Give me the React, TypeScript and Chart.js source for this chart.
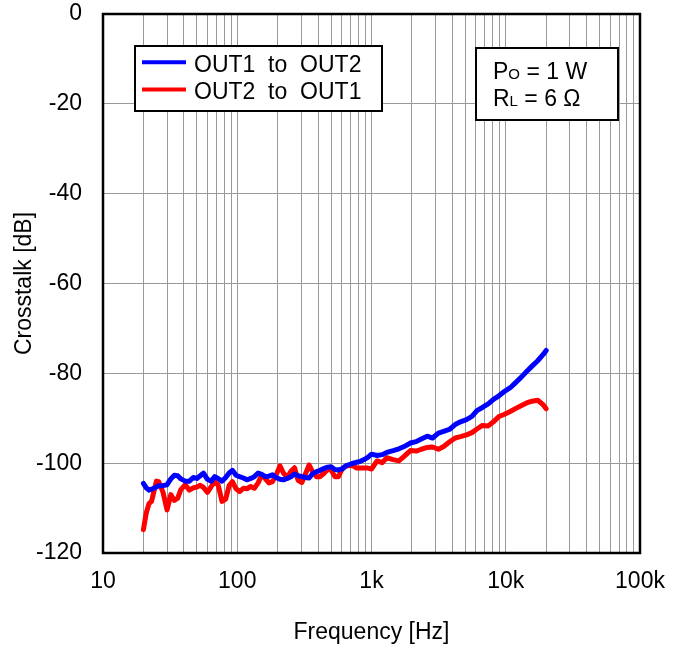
import React, { useEffect, useRef } from 'react';
import { Chart, registerables } from 'chart.js';

Chart.register(...registerables);

const FONT = "'Liberation Sans', Arial, Helvetica, sans-serif";

const freqHz = [
  20, 21, 22, 23, 25, 26, 28, 30, 32, 34,
  36, 38, 41, 44, 47, 50, 53, 56, 60, 64,
  68, 72, 77, 82, 87, 92, 98, 104, 111, 118,
  126, 134, 143, 152, 162, 172, 183,
  195, 208, 221, 236, 251, 267, 284, 303, 322, 343,
  365, 389, 414, 441, 470, 500, 533, 567, 604, 643,
  685, 730, 777, 827, 881, 938, 1000, 1100, 1200, 1300,
  1450, 1600, 1750, 1950,
  2150, 2350, 2600, 2850, 3150, 3450, 3800, 4200, 4600, 5100,
  5600, 6100, 6700, 7400, 8100, 8900, 9800, 10800, 11900, 13000,
  14300, 15700, 17300, 19000, 20000,
];

const out1ToOut2 = [
  -104.5, -105.5, -106.0, -105.8, -105.3, -105.0, -105.0, -104.8, -103.5, -102.7,
  -102.8, -103.5, -104.0, -104.0, -103.2, -103.4, -102.8, -102.2, -103.6, -104.0,
  -103.0, -103.4, -104.0, -103.2, -102.2, -101.6, -102.7, -103.0, -103.3, -103.7,
  -103.4, -103.0, -102.2, -102.5, -103.0, -102.9, -102.6,
  -103.2, -103.6, -103.7, -103.4, -103.0, -102.4, -102.8, -103.0, -103.2, -103.3,
  -102.3, -101.9, -101.6, -101.2, -100.9, -100.8, -101.4, -101.5, -101.3, -100.6,
  -100.3, -100.0, -99.8, -99.6, -99.2, -98.7, -98.0, -98.3, -98.1, -97.6,
  -97.2, -96.8, -96.3, -95.5,
  -95.2, -94.6, -94.0, -94.4, -93.3, -92.9, -92.5, -91.4, -90.8, -90.3,
  -89.6, -88.3, -87.6, -86.8, -85.8, -85.0, -84.0, -83.2, -82.0, -80.9,
  -79.6, -78.4, -77.2, -75.8, -74.9,
];

const out2ToOut1 = [
  -114.8, -111.1, -109.0, -108.5, -104.0, -104.1, -106.5, -110.4, -107.0, -108.3,
  -107.8, -105.9, -104.8, -106.0, -105.5, -105.3, -104.9, -105.4, -106.5, -105.2,
  -104.2, -104.8, -108.5, -108.0, -105.0, -104.1, -105.7, -106.3, -105.6, -105.7,
  -105.2, -105.6, -104.4, -102.6, -103.5, -104.4, -104.1,
  -102.6, -100.6, -102.2, -103.2, -101.8, -101.0, -103.8, -104.3, -102.4, -100.4,
  -102.0, -103.0, -103.0, -102.3, -101.4, -101.5, -103.0, -103.0, -101.3, -100.7,
  -100.5, -100.6, -101.1, -101.1, -101.1, -101.1, -101.3, -99.5, -99.9, -98.8,
  -99.2, -99.5, -98.5, -97.2,
  -97.3, -96.9, -96.5, -96.4, -96.9, -96.3, -95.3, -94.4, -94.1, -93.7,
  -93.2, -92.4, -91.6, -91.7, -90.8, -89.6, -89.1, -88.5, -87.8, -87.2,
  -86.6, -86.2, -86.0, -87.0, -87.9,
];

const xTickValues = [
  10, 20, 30, 40, 50, 60, 70, 80, 90,
  100, 200, 300, 400, 500, 600, 700, 800, 900,
  1000, 2000, 3000, 4000, 5000, 6000, 7000, 8000, 9000,
  10000, 20000, 30000, 40000, 50000, 60000, 70000, 80000, 90000,
  100000,
];

const xTickLabels: Record<number, string> = {
  10: '10',
  100: '100',
  1000: '1k',
  10000: '10k',
  100000: '100k',
};

const yMin = -120;
const yMax = 0;
const yStep = 20;

const seriesNames = ['OUT1  to  OUT2', 'OUT2  to  OUT1'];
const seriesColors = ['#0000ff', '#ff0000'];

const conditionLines = [
  { main: 'P', sub: 'O', rest: ' = 1 W' },
  { main: 'R', sub: 'L', rest: ' = 6 Ω' },
];

const xTitle = 'Frequency [Hz]';
const yTitle = 'Crosstalk [dB]';

const overlayPlugin = {
  id: 'overlayBoxes',
  afterDatasetsDraw(chart: any) {
    const { ctx, chartArea: a } = chart;
    ctx.save();
    ctx.strokeStyle = '#000';
    ctx.lineWidth = 2.5;
    ctx.strokeRect(a.left, a.top, a.right - a.left, a.bottom - a.top);
    ctx.restore();
  },
  afterDraw(chart: any) {
    const ctx = chart.ctx as CanvasRenderingContext2D;
    ctx.save();
    // Legend box
    const lx = 135, ly = 46, lw = 247, lh = 65;
    ctx.fillStyle = '#fff';
    ctx.fillRect(lx, ly, lw, lh);
    ctx.strokeStyle = '#000';
    ctx.lineWidth = 2;
    ctx.strokeRect(lx, ly, lw, lh);
    ctx.font = `23px ${FONT}`;
    ctx.textBaseline = 'alphabetic';
    ctx.textAlign = 'left';
    chart.data.datasets.forEach((ds: any, i: number) => {
      const base = 71.7 + i * 27.3;
      const sy = base - 9.5;
      ctx.strokeStyle = ds.borderColor;
      ctx.lineWidth = 4;
      ctx.lineCap = 'butt';
      ctx.beginPath();
      ctx.moveTo(142, sy);
      ctx.lineTo(186, sy);
      ctx.stroke();
      ctx.fillStyle = '#000';
      ctx.fillText(ds.label, 194, base);
    });

    // Conditions box
    const bx = 476, by = 48, bw = 142, bh = 72;
    ctx.fillStyle = '#fff';
    ctx.fillRect(bx, by, bw, bh);
    ctx.strokeStyle = '#000';
    ctx.lineWidth = 2;
    ctx.strokeRect(bx, by, bw, bh);
    ctx.fillStyle = '#000';
    conditionLines.forEach((ln, i) => {
      const base = 79 + i * 27;
      let x = 493;
      ctx.font = `23px ${FONT}`;
      ctx.fillText(ln.main, x, base);
      x += ctx.measureText(ln.main).width;
      ctx.font = `15px ${FONT}`;
      ctx.fillText(ln.sub, x, base);
      x += ctx.measureText(ln.sub).width;
      ctx.font = `23px ${FONT}`;
      ctx.fillText(ln.rest, x, base);
    });
    ctx.restore();
  },
};

export default function App() {
  const ref = useRef<HTMLCanvasElement | null>(null);

  useEffect(() => {
    const canvas = ref.current;
    if (!canvas) return;
    const chart = new Chart(canvas, {
      type: 'line',
      data: {
        datasets: [
          {
            label: seriesNames[0],
            data: freqHz.map((f, i) => ({ x: f, y: out1ToOut2[i] })),
            borderColor: seriesColors[0],
            backgroundColor: seriesColors[0],
            borderWidth: 5,
            pointRadius: 0,
            tension: 0,
            borderJoinStyle: 'round',
            borderCapStyle: 'round',
            fill: false,
          },
          {
            label: seriesNames[1],
            data: freqHz.map((f, i) => ({ x: f, y: out2ToOut1[i] })),
            borderColor: seriesColors[1],
            backgroundColor: seriesColors[1],
            borderWidth: 5,
            pointRadius: 0,
            tension: 0,
            borderJoinStyle: 'round',
            borderCapStyle: 'round',
            fill: false,
          },
        ],
      },
      options: {
        responsive: false,
        animation: false,
        layout: { padding: { top: 14, right: 46, left: 0, bottom: 0 } },
        plugins: {
          legend: { display: false },
          tooltip: { enabled: false },
        },
        scales: {
          x: {
            type: 'logarithmic',
            min: 10,
            max: 100000,
            afterBuildTicks: (s: any) => {
              s.ticks = xTickValues.map((v) => ({ value: v }));
            },
            afterFit: (s: any) => {
              s.height = 97;
              s.paddingLeft = 0;
              s.paddingRight = 0;
            },
            ticks: {
              autoSkip: false,
              maxRotation: 0,
              minRotation: 0,
              padding: 15,
              color: '#000',
              font: { family: FONT, size: 23 },
              callback: (v: any) => xTickLabels[Number(v)] ?? '',
            },
            grid: { color: '#999999', lineWidth: 1, drawTicks: false },
            border: { display: false },
            title: {
              display: true,
              text: xTitle,
              color: '#000',
              font: { family: FONT, size: 23 },
              padding: { top: 0, bottom: 4 },
            },
          },
          y: {
            type: 'linear',
            min: yMin,
            max: yMax,
            afterFit: (s: any) => {
              s.width = 103;
              s.paddingTop = 0;
              s.paddingBottom = 0;
            },
            ticks: {
              stepSize: yStep,
              padding: 21,
              color: '#000',
              font: { family: FONT, size: 23 },
            },
            grid: { color: '#999999', lineWidth: 1, drawTicks: false },
            border: { display: false },
            title: {
              display: true,
              text: yTitle,
              color: '#000',
              font: { family: FONT, size: 23 },
              padding: { top: 11, bottom: 0 },
            },
          },
        },
      } as any,
      plugins: [overlayPlugin],
    });
    return () => chart.destroy();
  }, []);

  return (
    <div style={{ position: 'absolute', left: 0, top: 0, width: 686, height: 650, background: '#fff' }}>
      <canvas ref={ref} width={686} height={650} style={{ display: 'block' }} />
    </div>
  );
}
